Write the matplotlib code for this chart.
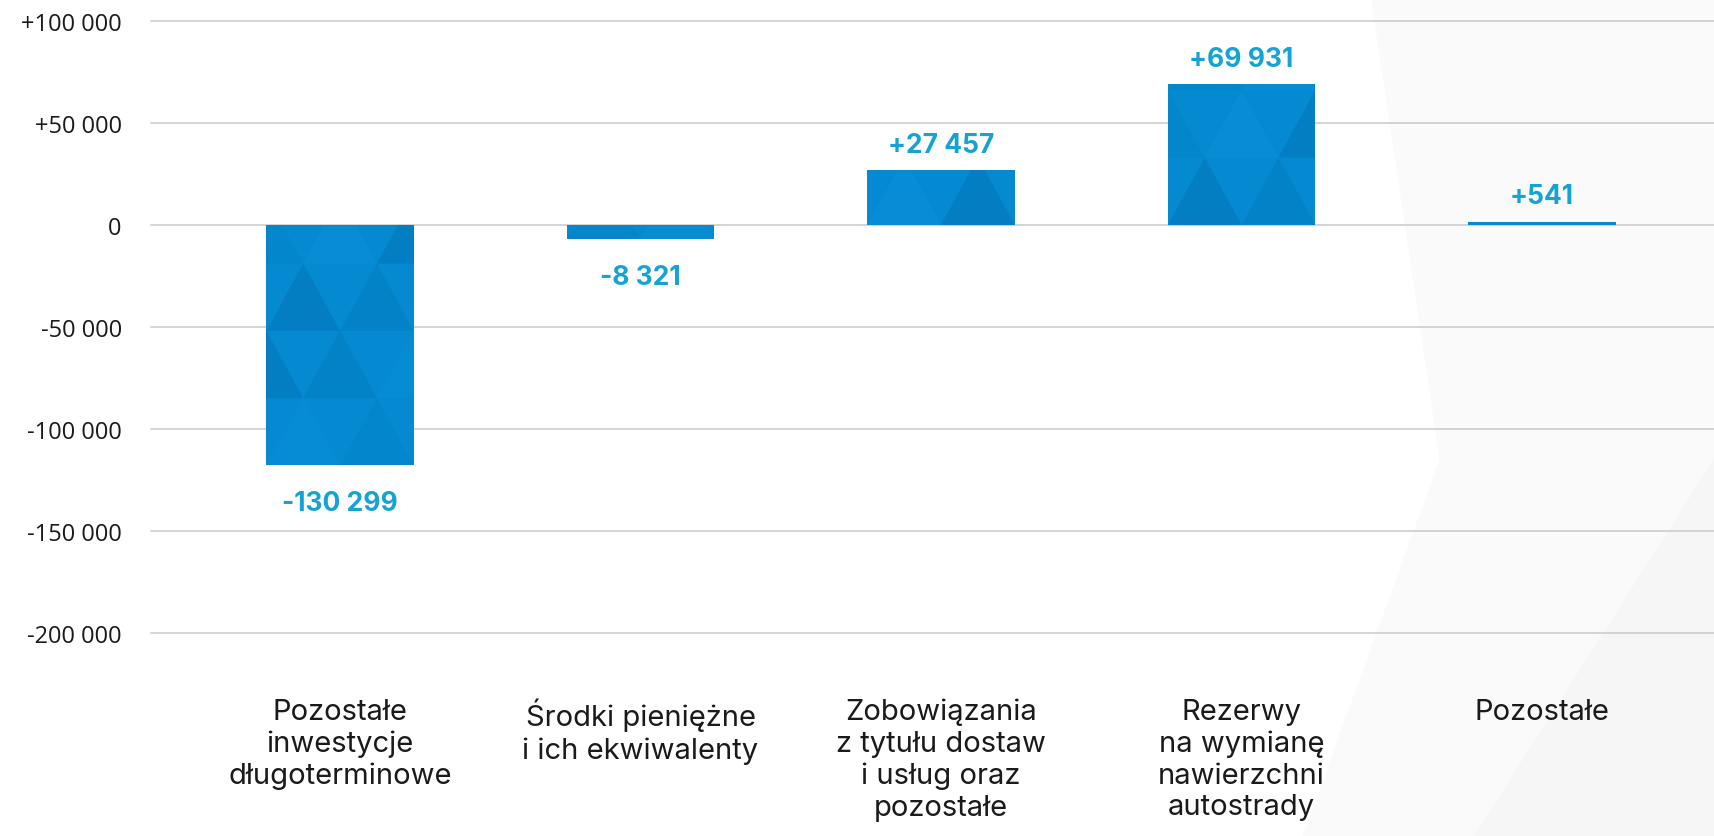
import numpy as np
import matplotlib.pyplot as plt
from matplotlib.patches import Polygon

categories = [
    "Pozostałe\ninwestycje\ndługoterminowe",
    "Środki pieniężne\ni ich ekwiwalenty",
    "Zobowiązania\nz tytułu dostaw\ni usług oraz\npozostałe",
    "Rezerwy\nna wymianę\nnawierzchni\nautostrady",
    "Pozostałe",
]
# values printed above/below the bars
values = [-130299, -8321, 27457, 69931, 541]
# bar heights as drawn in the picture
bar_heights = [-118000, -7100, 26700, 69000, 1600]
yticks = [100000, 50000, 0, -50000, -100000, -150000, -200000]

BAR = "#0589D0"
LABEL = "#14A3D2"
GRID = "#C9C9C9"


def fmt(v, sign=True):
    s = f"{abs(v):,}".replace(",", " ")
    if v > 0 and sign:
        return "+" + s
    if v < 0:
        return "-" + s
    return s


fig = plt.figure(figsize=(17.14, 8.37), dpi=100)
fig.patch.set_facecolor("white")

# faint background shape on the right
bg = fig.add_axes([0, 0, 1, 1], zorder=-5)
bg.set_xlim(0, 1); bg.set_ylim(0, 1); bg.axis("off")
bg.add_patch(Polygon([[0.80, 1.0], [1.0, 1.0], [1.0, 0.0], [0.76, 0.0], [0.84, 0.45]],
                     closed=True, color="#FAFAFA", lw=0))
bg.add_patch(Polygon([[0.86, 0.0], [1.0, 0.0], [1.0, 0.45]],
                     closed=True, color="#F6F6F6", lw=0))

ax = fig.add_axes([0.0881, 0.2431, 0.9119, 0.7306])
ax.patch.set_alpha(0)
x = np.arange(len(categories))
bars = ax.bar(x, bar_heights, width=0.49, color=BAR, zorder=3, linewidth=0)

# triangle texture inside bars
tex_cols = ["#0079BE", "#0A93DA", "#0383C8", "#0E95DD", "#006FB0"]
for i, b in enumerate(bars):
    x0, w = b.get_x(), b.get_width()
    y0, h = b.get_y(), b.get_height()
    if abs(h) < 5000:
        continue
    row = 33000
    nrows = int(np.ceil(abs(h) / row)) + 1
    k = 0
    for r in range(nrows):
        ya = y0 + r * row if h > 0 else y0 + h + r * row
        yb = ya + row
        shift = (r % 2) * w / 4
        for c in range(-1, 3):
            xa = x0 + shift + c * w / 2
            tri = Polygon([[xa, ya], [xa + w / 2, ya], [xa + w / 4, yb]], closed=True,
                          color=tex_cols[(k + i) % len(tex_cols)], alpha=0.4, lw=0, zorder=3.5)
            ax.add_patch(tri)
            tri.set_clip_path(b)
            k += 1

for xi, v, h in zip(x, values, bar_heights):
    if h >= 0:
        ax.annotate(fmt(v), (xi, h), xytext=(0, 9), textcoords="offset points",
                    ha="center", va="bottom", fontsize=19, fontweight="bold",
                    color=LABEL, family="Inter")
    else:
        ax.annotate(fmt(v), (xi, h), xytext=(0, -18), textcoords="offset points",
                    ha="center", va="top", fontsize=19, fontweight="bold",
                    color=LABEL, family="Inter")

ax.set_xlim(-0.629, 4.572)
ax.set_ylim(-200000, 100000)
ax.set_yticks(yticks)
ax.set_yticklabels([fmt(t) for t in yticks], family="Open Sans", fontsize=17, color="#1A1A1A")
ax.set_xticks(x)
ax.set_xticklabels(categories, family="Inter", fontsize=21, color="#1A1A1A", linespacing=1.22,
                   va="top")
ax.tick_params(axis="y", length=0, pad=21)
ax.tick_params(axis="x", length=0, pad=47)
ax.grid(axis="y", color=GRID, linewidth=1.1, zorder=0)
ax.set_axisbelow(True)
for s in ax.spines.values():
    s.set_visible(False)
for gl in ax.get_ygridlines():
    gl.set_clip_on(False)

plt.savefig("out.png", dpi=100)
